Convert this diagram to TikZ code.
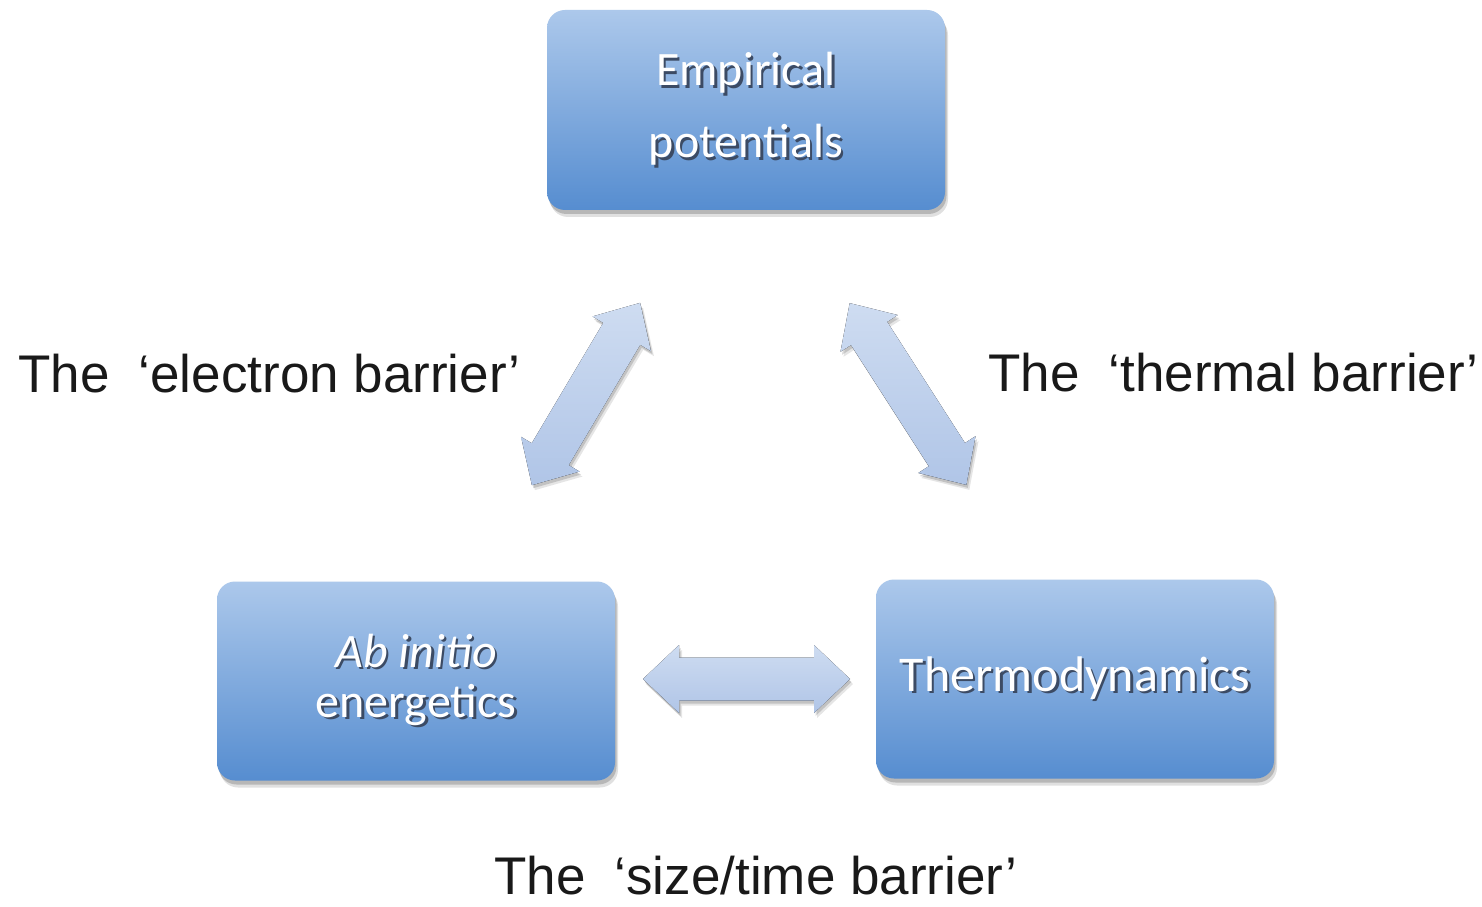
\documentclass[tikz,border=0pt]{standalone}
\usepackage{fontspec}
\setmainfont{Liberation Sans}
\newfontfamily\carl{Carlito}
\usetikzlibrary{shadows}
\definecolor{boxtop}{RGB}{172,200,235}
\definecolor{boxbot}{RGB}{86,141,208}
\definecolor{arrtop}{RGB}{206,220,241}
\definecolor{arrbot}{RGB}{176,197,231}
\definecolor{txtsh}{RGB}{60,75,100}
\definecolor{lbl}{RGB}{25,25,25}
\newcommand\tsh[1]{\makebox[0pt][l]{\hspace{2.5pt}\raisebox{-2.5pt}{\textcolor{txtsh}{#1}}}#1}
\tikzset{
  box/.style={rounded corners=18pt, minimum width=398pt, minimum height=199pt,
    top color=boxtop, bottom color=boxbot, text=white, align=center, inner sep=0pt,
    drop shadow={shadow xshift=3pt, shadow yshift=-7pt, opacity=0.12, fill=black},
    drop shadow={shadow xshift=1.5pt, shadow yshift=-4pt, opacity=0.18, fill=black}},
  blockarrow/.style={top color=arrtop, bottom color=arrbot,
    drop shadow={shadow xshift=3pt, shadow yshift=-5pt, opacity=0.1, fill=black},
    drop shadow={shadow xshift=1.5pt, shadow yshift=-3pt, opacity=0.15, fill=black}},
  barrier/.style={font=\fontsize{53}{60}\selectfont, text=lbl, inner sep=0pt}
}
\newcommand\darrow[5]{%
\begin{scope}[shift={(#2,#3)}, rotate=#4]
 \coordinate (#1-1) at ({-#5/2},0);
 \coordinate (#1-2) at ({-#5/2+36},34);
 \coordinate (#1-3) at ({-#5/2+36},21.5);
 \coordinate (#1-4) at ({#5/2-36},21.5);
 \coordinate (#1-5) at ({#5/2-36},34);
 \coordinate (#1-6) at ({#5/2},0);
 \coordinate (#1-7) at ({#5/2-36},-34);
 \coordinate (#1-8) at ({#5/2-36},-21.5);
 \coordinate (#1-9) at ({-#5/2+36},-21.5);
 \coordinate (#1-10) at ({-#5/2+36},-34);
\end{scope}
\fill[blockarrow] (#1-1) -- (#1-2) -- (#1-3) -- (#1-4) -- (#1-5) -- (#1-6) -- (#1-7) -- (#1-8) -- (#1-9) -- (#1-10) -- cycle;}
\begin{document}
\begin{tikzpicture}[x=1pt,y=1pt]
\useasboundingbox (0,0) rectangle (1482,906);
\fill[white] (0,0) rectangle (1482,906);
% boxes
\node[box, minimum height=200pt, font=\carl\fontsize{48}{72}\selectfont] (emp) at (746,796)
  {\tsh{Empirical}\\\tsh{potentials}};
\node[box, font=\carl\fontsize{48}{50}\selectfont] (abi) at (416,225)
  {\tsh{\itshape Ab initio}\\\tsh{energetics}};
\node[box, font=\carl\fontsize{50}{60}\selectfont] (thermo) at (1075,227)
  {\tsh{Thermodynamics}};
% block arrows
\darrow{la}{586}{512}{59.3}{212}
\darrow{ra}{908}{512}{-57.3}{216}
\darrow{ha}{746.5}{227}{0}{207}
% labels
\node[barrier, anchor=base west] (eb) at (18,513) {The\hspace{0.55em}‘electron barrier’};
\node[barrier, anchor=base west] (tb) at (988,514) {The\hspace{0.55em}‘thermal barrier’};
\node[barrier, anchor=base west] (sb) at (494,12) {The\hspace{0.55em}‘size/time barrier’};
\end{tikzpicture}
\end{document}
